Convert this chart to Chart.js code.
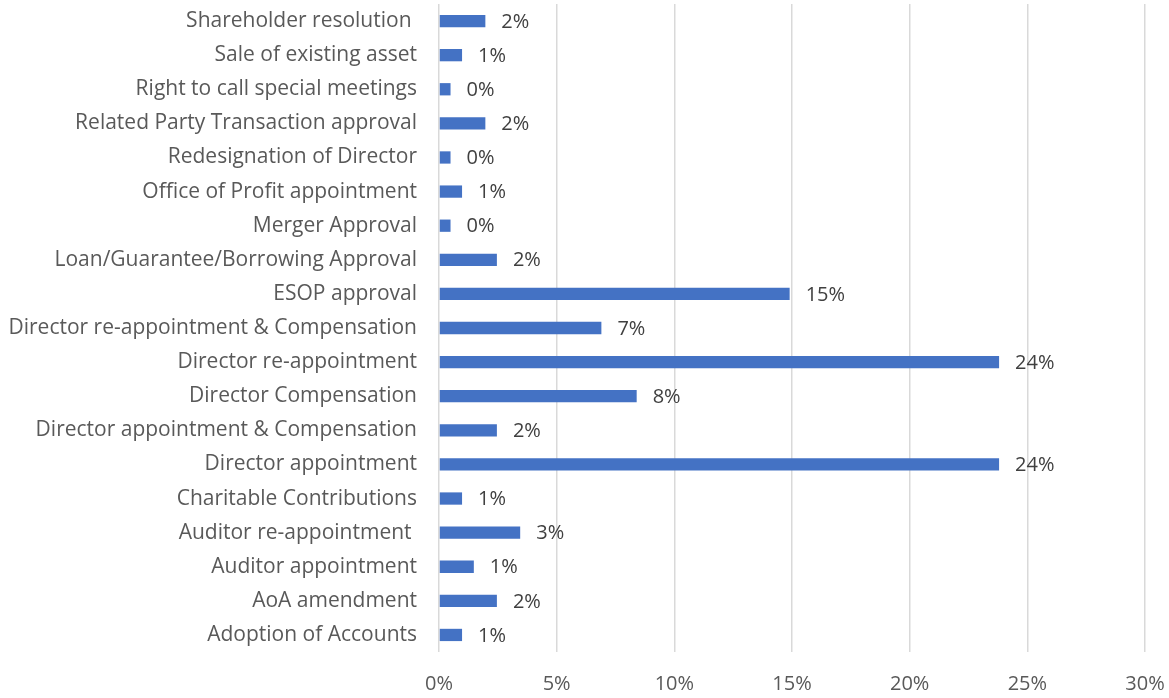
<!DOCTYPE html>
<html>
<head>
<meta charset="utf-8">
<script src="https://cdn.jsdelivr.net/npm/chart.js@4"></script>
<style>
  html, body { margin: 0; padding: 0; background: #fff; }
  #wrap { width: 1169px; height: 698px; position: relative; }
</style>
</head>
<body>
<div id="wrap"><canvas id="chart"></canvas></div>
<script>
// categories, top to bottom as in the picture
const categories = [
    'Shareholder resolution ',
    'Sale of existing asset',
    'Right to call special meetings',
    'Related Party Transaction approval',
    'Redesignation of Director',
    'Office of Profit appointment',
    'Merger Approval',
    'Loan/Guarantee/Borrowing Approval',
    'ESOP approval',
    'Director re-appointment & Compensation',
    'Director re-appointment',
    'Director Compensation',
    'Director appointment & Compensation',
    'Director appointment',
    'Charitable Contributions',
    'Auditor re-appointment ',
    'Auditor appointment',
    'AoA amendment',
    'Adoption of Accounts'
];

// share of resolutions, in percent
const shares = [1.97, 0.98, 0.49, 1.97, 0.49, 0.98, 0.49, 2.46, 14.9, 6.9, 23.8, 8.4, 2.46, 23.8, 0.98, 3.45, 1.48, 2.46, 0.98];

// x axis tick values
const xTicks = [0, 5, 10, 15, 20, 25, 30];

const FONT = "'Open Sans', sans-serif";

// draws the value label just right of each bar
const valueLabels = {
    id: 'valueLabels',
    afterDatasetsDraw(chart) {
        const ctx = chart.ctx;
        const meta = chart.getDatasetMeta(0);
        ctx.save();
        ctx.font = '20px ' + FONT;
        ctx.fillStyle = '#404040';
        ctx.textBaseline = 'middle';
        ctx.textAlign = 'left';
        meta.data.forEach((bar, i) => {
            ctx.fillText(Math.round(shares[i]) + '%', bar.x + 16, bar.y + 1);
        });
        ctx.restore();
    }
};

new Chart(document.getElementById('chart'), {
    type: 'bar',
    data: {
        labels: categories,
        datasets: [{
            data: shares,
            backgroundColor: '#4472C4',
            barPercentage: 0.36,
            categoryPercentage: 1.0
        }]
    },
    options: {
        indexAxis: 'y',
        responsive: true,
        maintainAspectRatio: false,
        animation: false,
        layout: { padding: { top: 4, right: 24, bottom: 0, left: 0 } },
        plugins: {
            legend: { display: false },
            tooltip: { enabled: false }
        },
        scales: {
            x: {
                min: 0,
                max: 30,
                afterBuildTicks(scale) {
                    scale.ticks = xTicks.map(v => ({ value: v }));
                },
                afterFit(scale) {
                    scale.height = 46;
                    scale.paddingLeft = 0;
                    scale.paddingRight = 0;
                },
                ticks: {
                    callback: v => v + '%',
                    color: '#595959',
                    font: { family: FONT, size: 20 },
                    padding: 20,
                    maxRotation: 0
                },
                grid: { color: '#d9d9d9', lineWidth: 1.5, drawTicks: false },
                border: { display: false }
            },
            y: {
                afterFit(scale) {
                    scale.width = 439;
                    scale.paddingTop = 0;
                    scale.paddingBottom = 0;
                },
                ticks: {
                    color: '#595959',
                    font: { family: FONT, size: 21 },
                    padding: 22,
                    autoSkip: false
                },
                grid: { display: false, drawTicks: false },
                border: { display: false }
            }
        }
    },
    plugins: [valueLabels]
});
</script>
</body>
</html>
